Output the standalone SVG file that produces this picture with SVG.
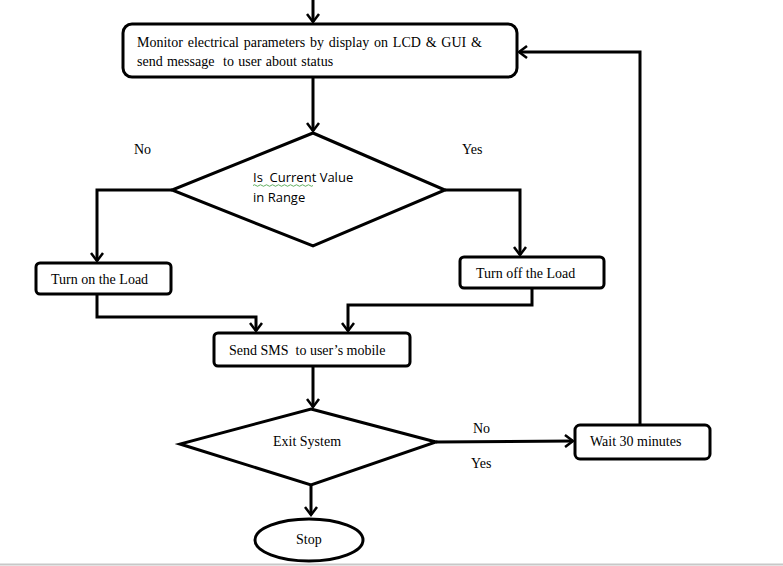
<svg xmlns="http://www.w3.org/2000/svg" width="783" height="566" viewBox="0 0 783 566">
<style>
.box{fill:#fff;stroke:#000;stroke-width:3}
.t{font-family:"Liberation Serif","Times New Roman",serif;font-size:14px;fill:#000;white-space:pre}
.c{font-family:"Open Sans","Liberation Sans",sans-serif;font-size:13px;fill:#000;white-space:pre}
.ln{fill:none;stroke:#000;stroke-width:3;stroke-linejoin:miter}
</style>
<defs>
<marker id="ah" markerUnits="userSpaceOnUse" markerWidth="14" markerHeight="14" viewBox="-10 -7 12 14" refX="0" refY="0" orient="auto">
<path d="M-8,-6 L0,0 L-8,6" fill="none" stroke="#000" stroke-width="2.5"/>
</marker>
</defs>
<rect x="0" y="0" width="783" height="566" fill="#fff"/>
<line x1="0" y1="564.5" x2="783" y2="564.5" stroke="#c8c8c8" stroke-width="2"/>
<g id="connectors">
<path class="ln" d="M313,0 V22" marker-end="url(#ah)"/>
<path class="ln" d="M313,78 V131" marker-end="url(#ah)"/>
<path class="ln" d="M172,190 H97 V261" marker-end="url(#ah)"/>
<path class="ln" d="M445,190 H520 V255" marker-end="url(#ah)"/>
<path class="ln" d="M97,294 V317 H256 V331" marker-end="url(#ah)"/>
<path class="ln" d="M532,288 V305 H348 V331" marker-end="url(#ah)"/>
<path class="ln" d="M313,366 V407" marker-end="url(#ah)"/>
<path class="ln" d="M436,442 L573,441" marker-end="url(#ah)"/>
<path class="ln" d="M311,485 V515" marker-end="url(#ah)"/>
<path class="ln" d="M640,425 V52 H519" marker-end="url(#ah)"/>
<text class="t" x="134" y="154">No</text>
<text class="t" x="462" y="154">Yes</text>
<text class="t" x="473" y="433">No</text>
<text class="t" x="471" y="468">Yes</text>
</g>
<g id="monitor">
<rect class="box" x="123" y="24" width="394" height="53" rx="9"/>
<text class="t" x="137" y="47" word-spacing="1.3">Monitor electrical parameters by display on LCD &amp; GUI &amp;</text>
<text class="t" x="137" y="66" word-spacing="0.8">send message  to user about status</text>
</g>
<g id="current-range">
<polygon class="box" points="313,133 445,190 313,246 172,190"/>
<text class="c" x="253" y="182">Is  Current Value</text>
<text class="c" x="253" y="202">in Range</text>
<path d="M253,185.5 q1.5,-1.5 3,0 t3,0 t3,0 t3,0 t3,0 t3,0 t3,0 t3,0 t3,0 t3,0 t3,0 t3,0 t3,0 t3,0 t3,0 t3,0 t3,0 t3,0 t3,0 t3,0" fill="none" stroke="#3a9a3a" stroke-width="0.8"/>
</g>
<g id="turn-on">
<rect class="box" x="36" y="263" width="135" height="31" rx="4"/>
<text class="t" x="51" y="284">Turn on the Load</text>
</g>
<g id="turn-off">
<rect class="box" x="460" y="257" width="144" height="31" rx="4"/>
<text class="t" x="476" y="278">Turn off the Load</text>
</g>
<g id="sms">
<rect class="box" x="214" y="333" width="196" height="33" rx="4"/>
<text class="t" x="229" y="355">Send SMS  to user’s mobile</text>
</g>
<g id="exit">
<polygon class="box" points="311,409 436,442 311,485 180,444"/>
<text class="t" x="273" y="446">Exit System</text>
</g>
<g id="wait">
<rect class="box" x="575" y="425" width="135" height="34" rx="5"/>
<text class="t" x="590" y="446">Wait 30 minutes</text>
</g>
<g id="stop">
<ellipse class="box" cx="309" cy="540" rx="54" ry="21"/>
<text class="t" x="296" y="544">Stop</text>
</g>
</svg>
